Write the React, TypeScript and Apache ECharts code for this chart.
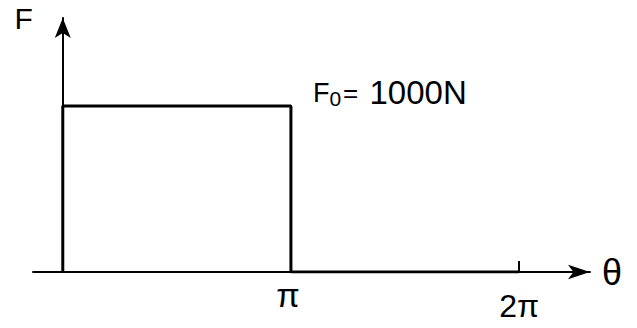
import React, { useEffect, useRef } from "react";
import * as echarts from "echarts";

// Step load: F = F0 on [0, π], 0 on [π, 2π]
const F0 = 1000;
const thetaValues = [0, 0, Math.PI, Math.PI, 2 * Math.PI];
const forceValues = [0, F0, F0, 0, 0];
const tickValues = [Math.PI, 2 * Math.PI];
const tickLabels = ["π", "2π"];
const xName = "θ";
const yName = "F";
const font = "'Liberation Sans', 'DejaVu Sans', sans-serif";

export default function App() {
  const ref = useRef<HTMLDivElement>(null);
  useEffect(() => {
    const chart = echarts.init(ref.current!, null, { renderer: "svg" });
    const data = thetaValues.map((t, i) => {
      const item: any = { value: [t, forceValues[i]] };
      if (i === 2) {
        item.label = {
          show: true,
          position: "right",
          distance: 0,
          offset: [22, -13],
          formatter: `{f|F}{s|0}{e|= }{b|${F0}N}`,
          rich: {
            f: { fontSize: 27, fontFamily: font, color: "#000" },
            s: { fontSize: 21, fontFamily: font, color: "#000", padding: [12, 2, 0, 0] },
            e: { fontSize: 26, fontFamily: font, color: "#000", padding: [0, 4, 0, 0] },
            b: { fontSize: 33, fontFamily: font, color: "#000" },
          },
        };
      }
      return item;
    });
    chart.setOption({
      animation: false,
      backgroundColor: "#fff",
      grid: { left: 33, right: 47, top: 18, bottom: 56 },
      xAxis: {
        type: "value",
        min: -0.41,
        max: 7.26,
        name: xName,
        nameLocation: "end",
        nameGap: 12,
        nameTextStyle: { fontSize: 36, fontFamily: font, color: "#000", verticalAlign: "middle", padding: [4, 0, 0, 0] },
        splitLine: { show: false },
        axisLine: {
          show: true,
          onZero: true,
          symbol: ["none", "arrow"],
          symbolSize: [11, 22],
          lineStyle: { color: "#000", width: 2 },
        },
        axisTick: {
          show: true,
          inside: true,
          length: 11,
          customValues: [2 * Math.PI],
          lineStyle: { color: "#000", width: 2 },
        },
        axisLabel: {
          show: true,
          customValues: tickValues,
          formatter: (v: number) => {
            const idx = tickValues.findIndex((t) => Math.abs(t - v) < 1e-6);
            return idx === 0 ? `{a|${tickLabels[0]}}` : `{b|${tickLabels[1]}}`;
          },
          rich: {
            a: { fontSize: 34, fontFamily: font, color: "#000", padding: [0, 6, 0, 0] },
            b: { fontSize: 32, fontFamily: font, color: "#000", padding: [12, 0, 0, 0] },
          },
          margin: 6,
        },
      },
      yAxis: {
        type: "value",
        min: 0,
        max: 1530,
        name: yName,
        nameLocation: "end",
        nameGap: 0,
        nameTextStyle: {
          fontSize: 30,
          fontFamily: font,
          color: "#000",
          align: "right",
          verticalAlign: "middle",
          padding: [0, 30, 0, 0],
        },
        splitLine: { show: false },
        axisTick: { show: false },
        axisLabel: { show: false },
        axisLine: {
          show: true,
          onZero: true,
          symbol: ["none", "arrow"],
          symbolSize: [12, 20],
          lineStyle: { color: "#000", width: 2 },
        },
      },
      series: [
        {
          type: "line",
          data,
          showSymbol: true,
          symbol: "circle",
          symbolSize: 0,
          lineStyle: { color: "#000", width: 3 },
          silent: true,
        },
      ],
    });
    return () => chart.dispose();
  }, []);
  return (
    <div
      ref={ref}
      style={{ position: "fixed", left: 0, top: 0, width: 637, height: 328, background: "#fff" }}
    />
  );
}
